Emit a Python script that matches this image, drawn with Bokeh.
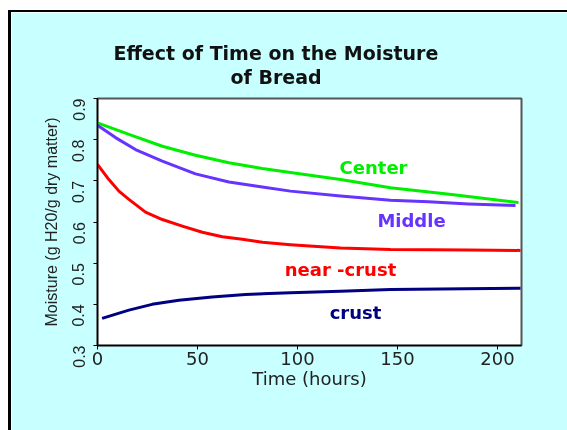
import math
from bokeh.plotting import figure
from bokeh.models import Title, Range1d, FixedTicker
from bokeh.core.properties import value
from bokeh.embed import file_html
from bokeh.resources import INLINE

# ---- data ----
center_hours = [0, 15.7, 32.4, 49, 65.7, 82.4, 96.5, 121.5, 146.5, 177, 210.5]
center_moist = [0.841, 0.813, 0.784, 0.762, 0.744, 0.730, 0.720, 0.703, 0.683, 0.667, 0.647]

middle_hours = [0, 9, 19, 32.4, 49, 65.7, 82.4, 96.5, 121.5, 146.5, 165.5, 185.5, 209]
middle_moist = [0.835, 0.805, 0.776, 0.748, 0.717, 0.697, 0.685, 0.675, 0.663, 0.653, 0.649, 0.644, 0.640]

nearcrust_hours = [0, 5.7, 10.7, 15.7, 24, 32.4, 42.4, 52.4, 62.4, 72.4, 82.4, 96.5, 121.5, 146.5, 185.5, 211.5]
nearcrust_moist = [0.740, 0.703, 0.675, 0.655, 0.624, 0.606, 0.590, 0.575, 0.564, 0.558, 0.551, 0.545,
                   0.537, 0.533, 0.532, 0.531]

crust_hours = [2.3, 15.7, 27.3, 40.7, 57.3, 74, 96.5, 121.5, 146.5, 184, 211.5]
crust_moist = [0.366, 0.386, 0.400, 0.410, 0.418, 0.424, 0.428, 0.432, 0.436, 0.438, 0.439]

series_names = ["Center", "Middle", "near -crust", "crust"]
x_ticks = [0, 50, 100, 150, 200]
y_ticks = [0.3, 0.4, 0.5, 0.6, 0.7, 0.8, 0.9]

# label anchor positions (data coords)
label_x = [138, 157, 121.5, 129]
label_y = [0.732, 0.604, 0.485, 0.380]

colors = ["#00EE00", "#6633FF", "#FF0000", "#000080"]

p = figure(width=560, height=422, x_range=Range1d(0, 212), y_range=Range1d(0.3, 0.9),
           output_backend="svg", toolbar_location=None, title=None,
           min_border_left=86, min_border_right=50, min_border_top=86, min_border_bottom=89)
p.styles = {"position": "fixed", "left": "11px", "top": "12px",
            "box-shadow": "-3px -2px 0px 0px black"}
p.background_fill_color = "white"
p.border_fill_color = "#C8FFFF"
p.outline_line_color = "#555555"
p.outline_line_width = 2
p.xgrid.visible = False
p.ygrid.visible = False

for hx, my, c in [(center_hours, center_moist, colors[0]),
                  (middle_hours, middle_moist, colors[1]),
                  (nearcrust_hours, nearcrust_moist, colors[2]),
                  (crust_hours, crust_moist, colors[3])]:
    p.line(hx, my, line_width=3, line_color=c, line_join="round")

p.text(x=label_x, y=label_y, text=series_names, text_color=colors,
       text_font=value("DejaVu Sans"), text_font_style="bold", text_font_size="18px",
       text_align="center", text_baseline="alphabetic")

# axes
p.xaxis.ticker = FixedTicker(ticks=x_ticks)
p.yaxis.ticker = FixedTicker(ticks=y_ticks)
for ax in (p.xaxis[0], p.yaxis[0]):
    ax.axis_line_color = "black"
    ax.axis_line_width = 1.5
    ax.major_tick_line_color = "black"
    ax.major_tick_out = 4
    ax.major_tick_in = 0
    ax.minor_tick_line_color = None
    ax.major_label_text_color = "#222222"
    ax.axis_label_text_color = "#222222"
    ax.axis_label_text_font_style = "normal"

p.xaxis.axis_label = "Time (hours)"
p.xaxis.major_label_text_font = "DejaVu Sans"
p.xaxis.major_label_text_font_size = "18px"
p.xaxis.axis_label_text_font = "DejaVu Sans"
p.xaxis.axis_label_text_font_size = "18px"
p.xaxis.major_label_standoff = 2
p.xaxis.axis_label_standoff = 0

p.yaxis.axis_label = "Moisture (g H20/g dry matter)"
p.yaxis.major_label_orientation = math.pi / 2
p.yaxis.major_label_text_font = "Liberation Sans"
p.yaxis.major_label_text_font_size = "16px"
p.yaxis.axis_label_text_font = "Liberation Sans"
p.yaxis.axis_label_text_font_size = "16px"
p.yaxis.major_label_standoff = 15
p.yaxis.axis_label_standoff = 4

# two-line title (added bottom line first)
p.add_layout(Title(text="of Bread", align="left", offset=133, text_font="DejaVu Sans",
                   text_font_size="19px", text_font_style="bold", text_color="#111111",
                   standoff=21), "above")
p.add_layout(Title(text="Effect of Time on the Moisture", align="left", offset=16,
                   text_font="DejaVu Sans", text_font_size="19px", text_font_style="bold",
                   text_color="#111111", standoff=-20), "above")

open("out.html", "w").write(file_html(p, INLINE))
